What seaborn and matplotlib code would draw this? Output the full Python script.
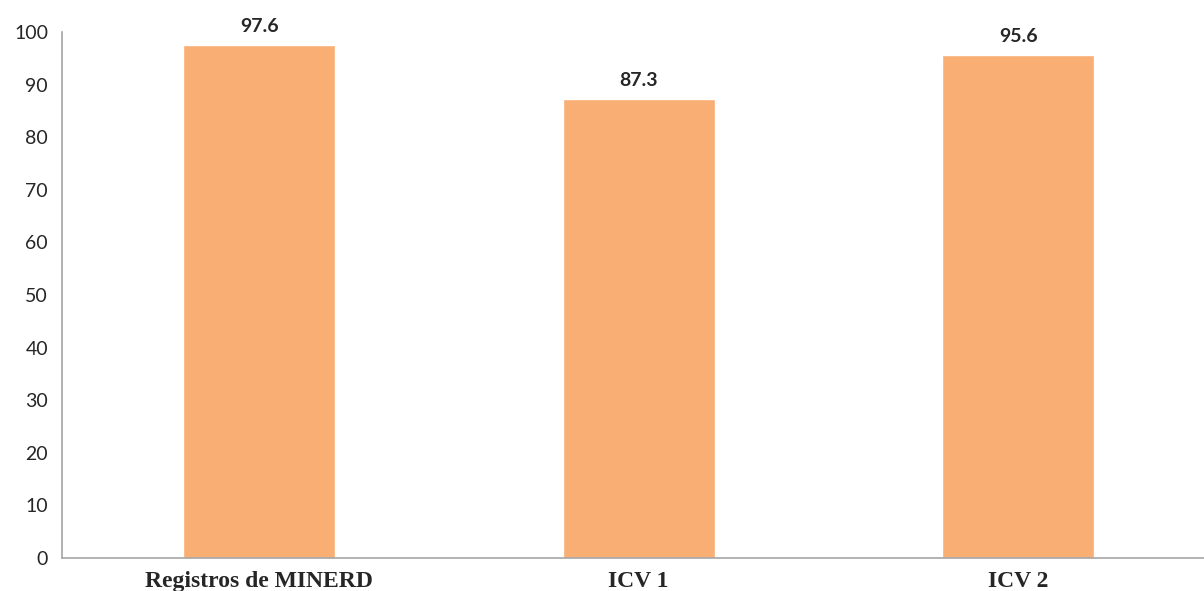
import seaborn as sns
import pandas as pd
from matplotlib import pyplot as plt

categorias = ["Registros de MINERD", "ICV 1", "ICV 2"]
valores = [97.6, 87.3, 95.6]
ticks_y = [0, 10, 20, 30, 40, 50, 60, 70, 80, 90, 100]

df = pd.DataFrame({"fuente": categorias, "valor": valores})

sns.set_style("white")
plt.rcParams["font.family"] = ["Lato", "DejaVu Sans"]

fig = plt.figure(figsize=(12.04, 5.91), dpi=100)
ax = fig.add_axes([0.0515, 0.0558, 0.9485, 0.8901])

sns.barplot(data=df, x="fuente", y="valor", color="#F9AE74", saturation=1, width=0.40, ax=ax)

ax.set_ylim(0, 100)
ax.set_xlim(-0.52, 2.49)
ax.set_yticks(ticks_y)
ax.tick_params(axis="y", labelsize=14, length=0, pad=10)
ax.tick_params(axis="x", length=0, pad=9)
ax.set_xticks(range(len(categorias)))
ax.set_xticklabels(categorias, fontfamily="Liberation Serif", fontweight="bold", fontsize=17)
ax.set_xlabel("")
ax.set_ylabel("")

for s in ["top", "right"]:
    ax.spines[s].set_visible(False)
for s in ["left", "bottom"]:
    ax.spines[s].set_color("#A6A6A6")
    ax.spines[s].set_linewidth(1.2)

# etiquetas de valor encima de las barras
for i, v in enumerate(valores):
    ax.annotate(f"{v:.1f}", (i, v), xytext=(0, 7), textcoords="offset points",
                ha="center", va="bottom", fontsize=14, fontweight="bold", clip_on=False)

fig.savefig("out.png", dpi=100)
